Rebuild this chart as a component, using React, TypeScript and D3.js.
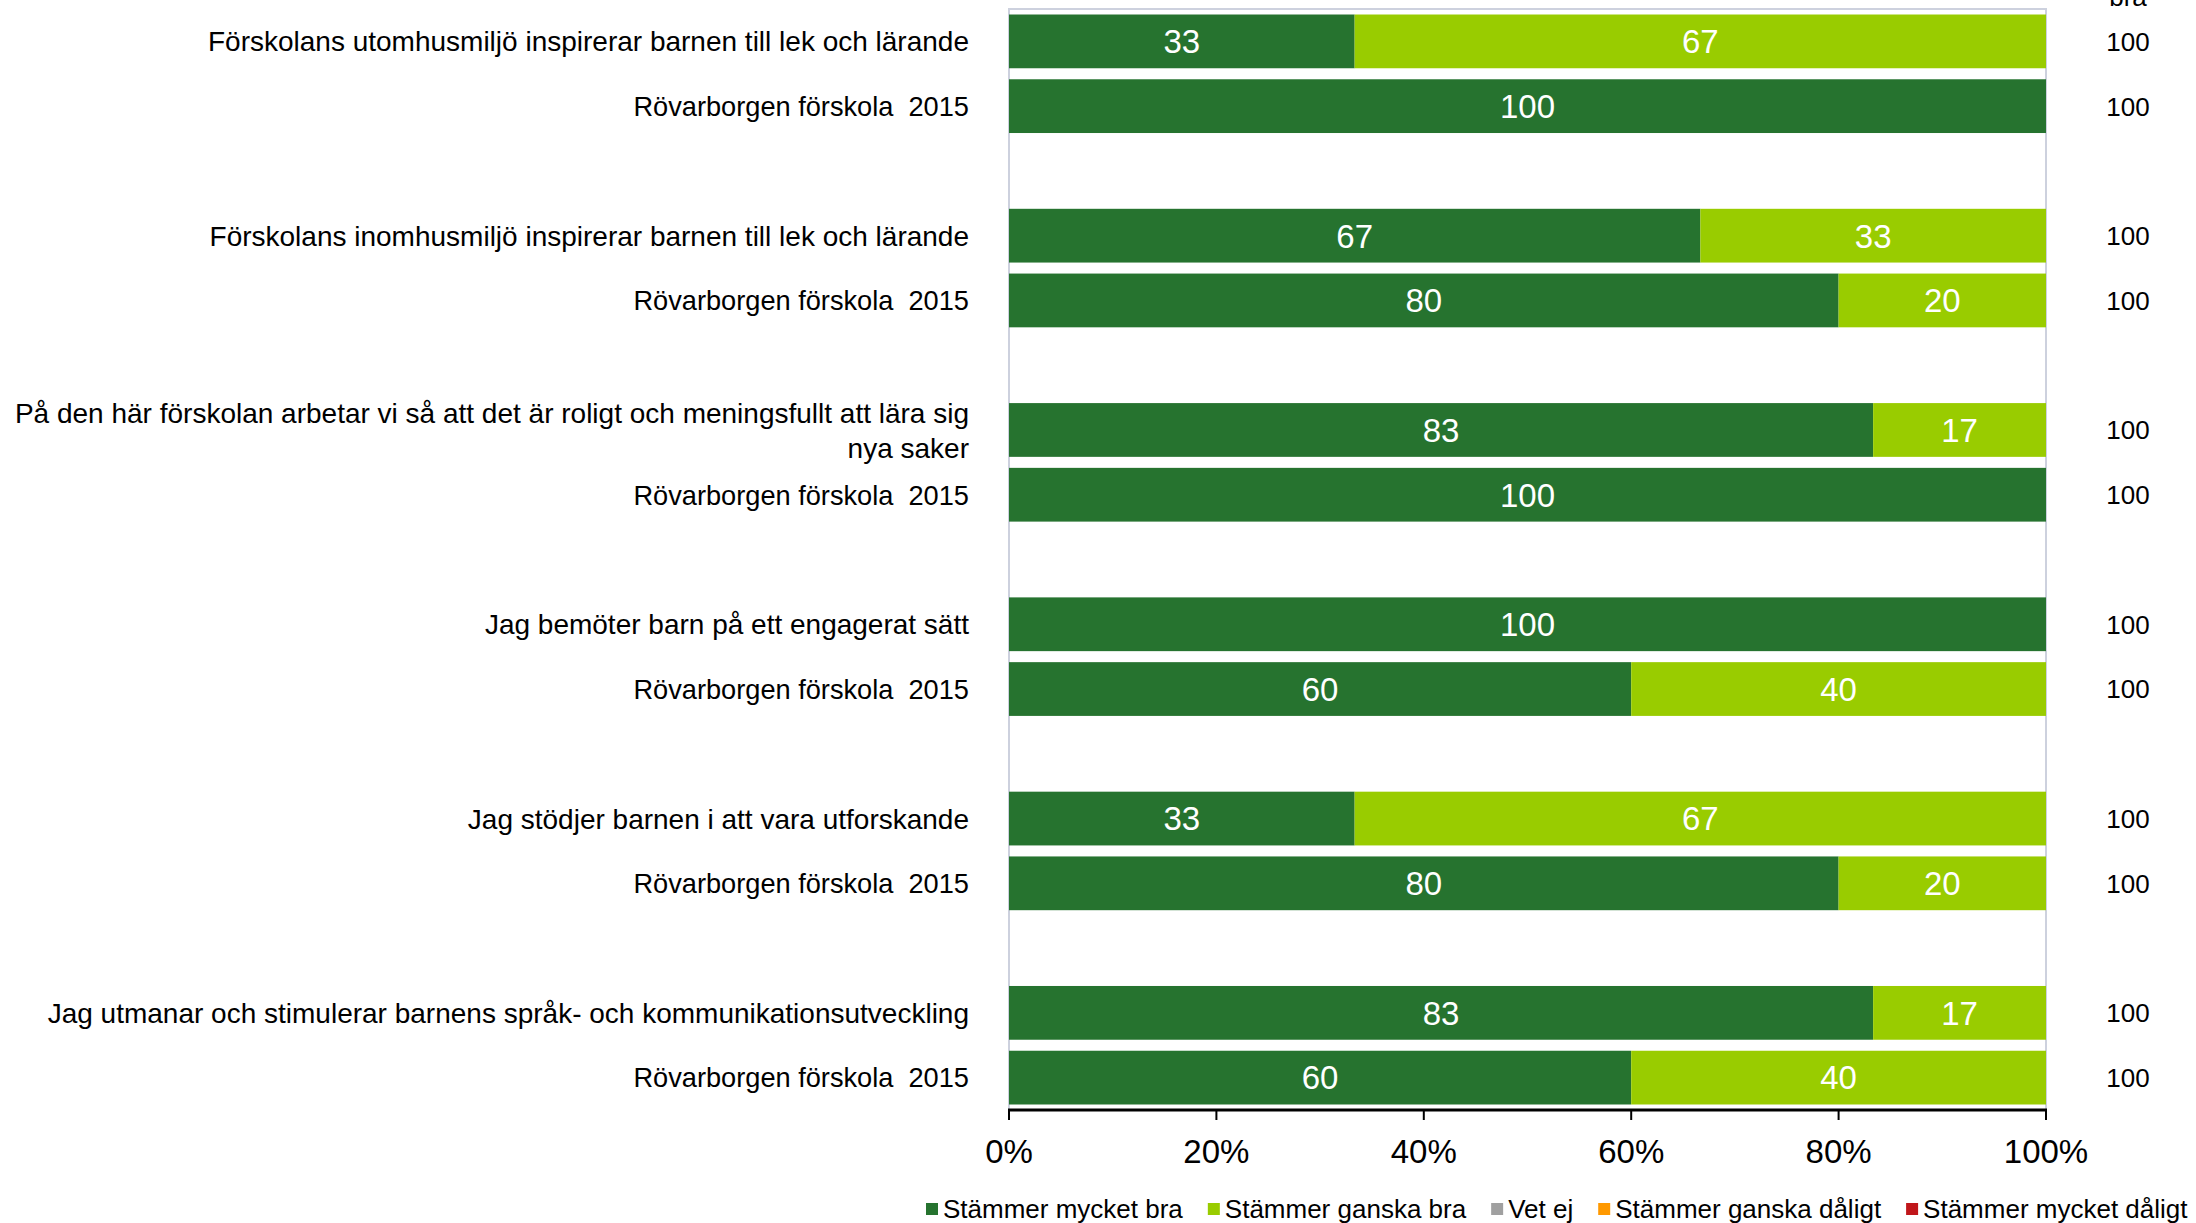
import React from "react";
import * as d3 from "d3";

const questions = [
  ["Förskolans utomhusmiljö inspirerar barnen till lek och lärande"],
  ["Förskolans inomhusmiljö inspirerar barnen till lek och lärande"],
  ["På den här förskolan arbetar vi så att det är roligt och meningsfullt att lära sig", "nya saker"],
  ["Jag bemöter barn på ett engagerat sätt"],
  ["Jag stödjer barnen i att vara utforskande"],
  ["Jag utmanar och stimulerar barnens språk- och kommunikationsutveckling"],
];
const compareLabel = "Rövarborgen förskola  2015";

// [mycket bra, ganska bra] for question row, then comparison row
const questionMycket = [33.33, 66.67, 83.33, 100, 33.33, 83.33];
const questionGanska = [66.67, 33.33, 16.67, 0, 66.67, 16.67];
const compareMycket = [100, 80, 100, 60, 80, 60];
const compareGanska = [0, 20, 0, 40, 20, 40];
const totals = [100, 100, 100, 100, 100, 100];
const compareTotals = [100, 100, 100, 100, 100, 100];

const legendLabels = ["Stämmer mycket bra", "Stämmer ganska bra", "Vet ej", "Stämmer ganska dåligt", "Stämmer mycket dåligt"];
const legendColors = ["#26732F", "#99CC00", "#A0A0A0", "#FF9900", "#C0161A"];
const xTicks = [0, 20, 40, 60, 80, 100];

const W = 2196, H = 1223;
const FONT = "'Liberation Sans', Arial, sans-serif";

export default function App() {
  const x = d3.scaleLinear().domain([0, 100]).range([1009, 2046]);
  const slots = d3.range(17);
  const y = d3.scaleBand<number>().domain(slots).range([9, 1110]).paddingInner(0.17).paddingOuter(0.085);

  type Row = { slot: number; lines: string[]; mycket: number; ganska: number; total: number; fs: number };
  const rows: Row[] = [];
  questions.forEach((q, g) => {
    rows.push({ slot: g * 3, lines: q, mycket: questionMycket[g], ganska: questionGanska[g], total: totals[g], fs: 28 });
    rows.push({ slot: g * 3 + 1, lines: [compareLabel], mycket: compareMycket[g], ganska: compareGanska[g], total: compareTotals[g], fs: 27.2 });
  });

  const canvas = typeof document !== "undefined" ? document.createElement("canvas") : null;
  const ctx = canvas ? canvas.getContext("2d") : null;
  if (ctx) ctx.font = "26px 'Liberation Sans'";
  const measure = (s: string) => (ctx ? ctx.measureText(s).width : s.length * 13);
  let lx = 926;
  const legendPos = legendLabels.map((l) => {
    const p = lx;
    lx += 17 + measure(l) + 25;
    return p;
  });

  const bw = y.bandwidth();
  const plotTop = 9;
  const axisY = 1110;

  return (
    <svg width={W} height={H} style={{ position: "absolute", left: 0, top: 0, background: "#fff" }} fontFamily={FONT}>
      <rect x={0} y={0} width={W} height={H} fill="#fff" />
      <rect x={x(0)} y={plotTop} width={x(100) - x(0)} height={axisY - plotTop} fill="none" stroke="#CDD1DE" strokeWidth={2} />
      {rows.map((r, i) => {
        const y0 = y(r.slot)!;
        const cy = y0 + bw / 2;
        return (
          <g key={i}>
            {r.mycket > 0 && (
              <rect x={x(0)} y={y0} width={x(r.mycket) - x(0)} height={bw} fill={legendColors[0]} />
            )}
            {r.ganska > 0 && (
              <rect x={x(r.mycket)} y={y0} width={x(r.mycket + r.ganska) - x(r.mycket)} height={bw} fill={legendColors[1]} />
            )}
            {r.mycket > 0 && (
              <text x={(x(0) + x(r.mycket)) / 2} y={cy} dy="0.36em" textAnchor="middle" fill="#fff" fontSize={33}>
                {Math.round(r.mycket)}
              </text>
            )}
            {r.ganska > 0 && (
              <text x={(x(r.mycket) + x(r.mycket + r.ganska)) / 2} y={cy} dy="0.36em" textAnchor="middle" fill="#fff" fontSize={33}>
                {Math.round(r.ganska)}
              </text>
            )}
            {r.lines.map((ln, j) => (
              <text
                key={j}
                x={969}
                y={cy + (j - (r.lines.length - 1) / 2) * 35}
                dy="0.36em"
                textAnchor="end"
                fontSize={r.fs}
                fill="#000"
                style={{ whiteSpace: "pre" }}
              >
                {ln}
              </text>
            ))}
            <text x={2128} y={cy} dy="0.36em" textAnchor="middle" fontSize={26} fill="#000">
              {r.total}
            </text>
          </g>
        );
      })}
      <text x={2128} y={6} textAnchor="middle" fontSize={26} fill="#000">bra</text>
      <line x1={x(0) - 1} x2={x(100) + 1} y1={axisY} y2={axisY} stroke="#000" strokeWidth={3} />
      {xTicks.map((t) => (
        <g key={t}>
          <line x1={x(t)} x2={x(t)} y1={axisY} y2={axisY + 10} stroke="#000" strokeWidth={2} />
          <text x={x(t)} y={1151} dy="0.36em" textAnchor="middle" fontSize={33} fill="#000">
            {t}%
          </text>
        </g>
      ))}
      {legendLabels.map((l, i) => (
        <g key={l}>
          <rect x={legendPos[i]} y={1203} width={12} height={12} fill={legendColors[i]} />
          <text x={legendPos[i] + 17} y={1209} dy="0.36em" fontSize={26} fill="#000">
            {l}
          </text>
        </g>
      ))}
    </svg>
  );
}
